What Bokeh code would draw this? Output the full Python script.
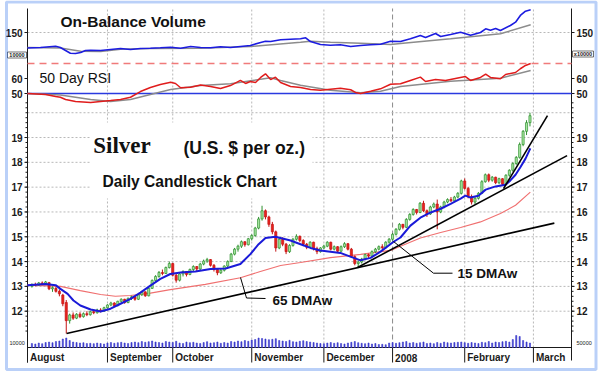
from bokeh.plotting import figure
from bokeh.models import Range1d, Label, BoxAnnotation, ColumnDataSource
from bokeh.core.properties import value
from bokeh.embed import file_html
from bokeh.resources import INLINE

# ---------------- data ----------------
months = ["August", "September", "October", "November", "December", "2008", "February", "March"]
month_start = [0, 22, 41, 64, 85, 105, 126, 146]

day = list(range(146))
opens = [13.00, 13.08, 13.05, 13.14, 13.10, 13.15, 12.90, 12.92, 12.80, 12.65, 12.35, 11.62, 11.85, 11.72, 11.88, 11.78, 11.90, 11.86, 11.98, 11.94, 12.05, 12.00,
         12.14, 12.25, 12.33, 12.22, 12.40, 12.48, 12.35, 12.52, 12.58, 12.48, 12.66, 12.78, 12.62, 12.92, 13.24, 13.40, 13.56, 13.52, 13.76,
         13.92, 13.45, 13.25, 13.50, 13.60, 13.48, 13.68, 13.80, 13.70, 13.90, 14.02, 14.08, 13.85, 13.68, 13.55, 13.65, 13.82, 14.00, 14.30, 14.50, 14.62, 14.80, 14.68,
         14.92, 15.05, 15.35, 15.72, 16.05, 15.80, 15.50, 15.20, 14.55, 14.90, 14.70, 14.40, 14.65, 14.90, 15.02, 14.85, 14.70, 14.58, 14.78, 14.52, 14.40,
         14.55, 14.62, 14.78, 14.50, 14.60, 14.42, 14.60, 14.72, 14.50, 14.20, 13.92, 13.98, 14.10, 14.28, 14.22, 14.40, 14.50, 14.60, 14.56, 14.78,
         14.90, 15.10, 15.30, 15.50, 15.38, 15.70, 15.90, 16.10, 15.98, 16.35, 16.05, 15.92, 16.20, 16.32, 16.00, 16.20, 16.40, 16.50, 16.45, 16.60, 16.75,
         17.25, 16.95, 16.62, 16.40, 16.55, 16.75, 17.22, 17.50, 17.28, 17.40, 17.18, 17.34, 17.12, 17.48, 17.68, 17.95, 18.20, 18.72, 19.25, 19.60]
highs = [13.12, 13.15, 13.18, 13.20, 13.22, 13.18, 13.00, 12.98, 12.88, 12.70, 12.45, 11.90, 11.95, 11.92, 11.96, 11.95, 12.00, 12.02, 12.06, 12.10, 12.12, 12.18,
         12.28, 12.38, 12.36, 12.42, 12.52, 12.50, 12.55, 12.62, 12.60, 12.70, 12.82, 12.80, 12.95, 13.28, 13.45, 13.62, 13.68, 13.80, 14.00,
         13.95, 13.50, 13.55, 13.65, 13.62, 13.72, 13.85, 13.82, 13.95, 14.08, 14.15, 14.10, 13.90, 13.72, 13.70, 13.85, 14.05, 14.35, 14.55, 14.68, 14.85, 14.82, 14.95,
         15.10, 15.40, 15.80, 16.25, 16.10, 15.85, 15.60, 15.25, 14.95, 14.98, 14.75, 14.70, 14.95, 15.10, 15.05, 14.90, 14.75, 14.82, 14.80, 14.60, 14.58,
         14.68, 14.82, 14.80, 14.65, 14.62, 14.65, 14.78, 14.75, 14.55, 14.25, 14.05, 14.15, 14.32, 14.32, 14.45, 14.55, 14.65, 14.70, 14.82, 14.95,
         15.15, 15.35, 15.55, 15.52, 15.75, 15.95, 16.15, 16.12, 16.40, 16.45, 16.10, 16.25, 16.38, 16.50, 16.25, 16.45, 16.55, 16.60, 16.65, 16.80, 17.30,
         17.35, 17.00, 16.70, 16.60, 16.80, 17.28, 17.55, 17.55, 17.45, 17.42, 17.38, 17.36, 17.52, 17.72, 18.00, 18.25, 18.80, 19.30, 19.70, 20.00]
lows = [12.95, 13.00, 13.02, 13.05, 13.06, 12.85, 12.78, 12.75, 12.60, 12.20, 11.10, 11.50, 11.65, 11.68, 11.72, 11.74, 11.80, 11.82, 11.88, 11.90, 11.95, 11.97,
        12.10, 12.20, 12.18, 12.20, 12.35, 12.30, 12.32, 12.45, 12.42, 12.45, 12.62, 12.58, 12.60, 12.90, 13.20, 13.35, 13.45, 13.50, 13.72,
        13.40, 13.15, 13.20, 13.40, 13.40, 13.45, 13.62, 13.62, 13.66, 13.85, 13.95, 13.80, 13.60, 13.45, 13.50, 13.60, 13.78, 13.98, 14.25, 14.40, 14.55, 14.60, 14.65,
        14.85, 15.00, 15.30, 15.65, 15.70, 15.40, 15.10, 14.40, 14.50, 14.62, 14.30, 14.35, 14.60, 14.85, 14.78, 14.62, 14.50, 14.55, 14.45, 14.30, 14.36,
        14.50, 14.58, 14.45, 14.45, 14.35, 14.38, 14.55, 14.45, 14.15, 13.85, 13.76, 13.92, 14.05, 14.15, 14.18, 14.35, 14.45, 14.50, 14.52, 14.72,
        14.85, 15.05, 15.25, 15.30, 15.35, 15.65, 15.85, 15.90, 15.95, 16.00, 15.80, 15.88, 16.15, 15.30, 15.95, 16.15, 16.35, 16.40, 16.42, 16.55, 16.70,
        16.90, 16.55, 16.30, 16.32, 16.50, 16.72, 17.18, 17.20, 17.22, 17.12, 17.12, 17.05, 17.10, 17.42, 17.62, 17.90, 18.15, 18.65, 19.10, 19.45]
closes = [13.08, 13.05, 13.14, 13.10, 13.18, 12.90, 12.95, 12.80, 12.70, 12.30, 11.62, 11.85, 11.72, 11.88, 11.78, 11.90, 11.86, 11.98, 11.94, 12.05, 12.00, 12.14,
          12.25, 12.33, 12.22, 12.40, 12.48, 12.35, 12.52, 12.58, 12.48, 12.66, 12.78, 12.62, 12.92, 13.24, 13.40, 13.56, 13.52, 13.76, 13.92,
          13.45, 13.25, 13.50, 13.60, 13.48, 13.68, 13.80, 13.70, 13.90, 14.02, 14.08, 13.85, 13.68, 13.55, 13.65, 13.82, 14.00, 14.30, 14.50, 14.62, 14.80, 14.68, 14.92,
          15.05, 15.35, 15.72, 16.05, 15.80, 15.50, 15.20, 14.55, 14.90, 14.70, 14.40, 14.65, 14.90, 15.02, 14.85, 14.70, 14.58, 14.78, 14.52, 14.40, 14.55,
          14.62, 14.78, 14.50, 14.60, 14.42, 14.60, 14.72, 14.50, 14.20, 13.92, 13.98, 14.10, 14.28, 14.22, 14.40, 14.50, 14.60, 14.56, 14.78, 14.90,
          15.10, 15.30, 15.50, 15.38, 15.70, 15.90, 16.10, 15.98, 16.35, 16.05, 15.92, 16.20, 16.32, 16.00, 16.20, 16.40, 16.50, 16.45, 16.60, 16.75, 17.25,
          16.95, 16.62, 16.40, 16.55, 16.75, 17.22, 17.50, 17.28, 17.40, 17.18, 17.34, 17.12, 17.48, 17.68, 17.95, 18.20, 18.72, 19.25, 19.60, 19.88]
volume = [40, 35, 45, 38, 50, 55, 48, 60, 65, 85, 95, 70, 55, 50, 45, 48, 40, 42, 38, 45, 40, 35,
          45, 50, 42, 48, 52, 45, 40, 50, 55, 48, 60, 52, 58, 65, 55, 50, 45, 60, 55,
          50, 62, 45, 40, 55, 48, 52, 45, 40, 50, 58, 45, 48, 55, 42, 50, 45, 60, 55, 65, 58, 70, 62,
          75, 80, 95, 90, 85, 78, 82, 88, 70, 65, 60, 72, 58, 55, 62, 68, 60, 55, 50, 45, 40,
          38, 45, 50, 42, 48, 40, 35, 45, 52, 60, 48, 42, 38, 45, 35, 40, 30, 32, 28, 45,
          50, 42, 48, 55, 60, 45, 50, 42, 48, 55, 40, 45, 38, 50, 42, 55, 48, 45, 50, 52, 55,
          48, 42, 50, 45, 40, 52, 48, 60, 45, 55, 50, 58, 62, 55, 80, 120, 110, 70, 55, 45]

ma15_day = [-1.3, 4.0, 6.9, 8.3, 10.4, 12.1, 14.1, 17.1, 20.0, 22.9, 25.8, 28.7, 31.6, 34.5, 37.4, 40.3, 43.3, 47.6,
            52.0, 56.4, 60.7, 63.6, 66.0, 68.0, 70.9, 75.3, 78.2, 81.1, 84.0, 86.9, 89.8, 92.7, 95.7, 98.6, 101.5,
            105.3, 107.3, 110.2, 113.1, 116.1, 119.0, 121.9, 124.8, 126.2, 127.7, 130.0, 132.1, 135.0, 137.9, 139.3,
            140.8, 142.2, 143.7, 145.1]
ma15_val = [13.05, 13.1, 13.05, 12.9, 12.7, 12.43, 12.23, 12.07, 11.99, 12.1, 12.3, 12.5, 12.75, 13.03, 13.3, 13.5, 13.56, 13.6,
            13.7, 13.72, 13.9, 14.3, 14.7, 14.95, 15.0, 14.85, 14.7, 14.55, 14.45, 14.4, 14.35, 14.2, 14.05, 14.15, 14.4,
            14.8, 14.97, 15.45, 15.77, 15.98, 16.13, 16.33, 16.54, 16.66, 16.58, 16.65, 16.9, 17.03, 17.1, 17.27,
            17.5, 17.8, 18.15, 18.56]
ma65_day = [-1.3, 8.3, 14.1, 20.0, 24.3, 28.7, 34.5, 40.3, 47.6, 50.5, 60.7, 66.5, 72.4, 78.2, 86.9, 95.7, 104.4,
            107.3, 113.1, 119.0, 124.8, 130.6, 136.4, 140.8, 145.1]
ma65_val = [13.05, 13.0, 12.83, 12.67, 12.6, 12.63, 12.73, 12.87, 13.02, 13.08, 13.35, 13.6, 13.84, 13.96, 14.16, 14.29, 14.45,
            14.62, 14.95, 15.17, 15.37, 15.6, 15.94, 16.27, 16.8]

obv_day = [-1.3, 2.5, 6.9, 8.3, 9.8, 11.2, 12.7, 14.2, 15.6, 17.1, 20.0, 22.9, 25.8, 28.7, 31.6, 34.5, 37.4, 40.4, 43.3, 46.2,
           49.1, 52.0, 54.9, 57.8, 60.7, 63.6, 66.6, 68.0, 69.5, 72.4, 75.3, 78.2, 79.7, 81.1, 84.0, 86.9, 89.8, 92.8, 95.7, 98.6,
           101.5, 104.4, 107.3, 110.2, 113.1, 114.6, 117.5, 119.0, 121.9, 124.8, 127.7, 130.6, 132.1, 133.5, 135.0, 136.4, 139.3,
           140.8, 142.2, 143.7, 145.2]
obv_val = [116.3, 117.4, 120.2, 117.4, 110.9, 105.0, 104.3, 106.5, 110.9, 111.5, 110.9, 113.0, 115.2, 113.0, 115.2, 115.9, 116.7,
           118.0, 115.9, 119.6, 117.4, 116.7, 118.9, 117.4, 119.6, 121.7, 128.3, 131.1, 130.4, 134.1, 135.4, 136.3, 138.5, 130.4,
           123.9, 122.4, 123.3, 119.6, 121.7, 123.3, 124.6, 131.1, 130.4, 136.3, 143.5, 139.1, 147.8, 141.3, 145.7, 150.7, 144.1,
           150.0, 158.0, 155.0, 158.7, 154.3, 165.2, 172.4, 187.0, 196.3, 199.3]
obvma_day = [-1.3, 8.3, 14.2, 20.0, 25.8, 34.5, 49.1, 63.6, 78.2, 81.1, 86.9, 95.7, 104.4, 107.3, 121.9, 136.4, 145.2]
obvma_val = [117.4, 116.3, 109.3, 108.7, 113.7, 115.2, 115.9, 119.6, 128.9, 131.1, 128.9, 126.7, 123.9, 126.1, 136.3, 147.2, 166.7]

rsi_day = [-1.3, 4.0, 6.9, 8.3, 9.8, 12.7, 17.1, 20.0, 22.9, 25.8, 28.7, 31.6, 34.5, 37.4, 40.4, 41.8, 43.3, 46.2, 49.1, 52.0,
           54.9, 57.8, 60.7, 62.2, 63.6, 65.1, 66.6, 68.0, 69.5, 70.9, 72.4, 75.3, 78.2, 81.1, 84.0, 86.9, 89.8, 92.8, 94.2, 95.7,
           98.6, 101.5, 104.4, 107.3, 110.2, 113.1, 114.6, 117.5, 120.4, 123.3, 126.2, 127.7, 130.6, 132.1, 133.5, 136.4, 137.9,
           140.8, 142.2, 143.7, 145.2]
rsi_val = [50, 49.3, 48, 47.5, 46, 44.7, 44, 44.7, 45.3, 46, 47.5, 51.3, 54, 56, 57.5, 56.7, 53.8, 54.2, 55.7, 54.7,
           53.3, 55.3, 58.7, 56.7, 58, 57.3, 60.7, 63.1, 59.3, 60.9, 57.3, 54.7, 54, 52.7, 52.2, 52.9, 53.5, 52.5, 50.7, 50,
           51.5, 53.1, 56.2, 56.5, 58.7, 60.9, 58, 59.3, 58.7, 60, 61.3, 58.7, 60.7, 62.9, 60.7, 59.8, 62.7, 64, 66.5, 68.7, 70]
rsima_day = [-1.3, 8.3, 17.1, 22.9, 28.7, 34.5, 40.4, 49.1, 57.8, 69.5, 72.4, 78.2, 86.9, 95.7, 101.5, 107.3, 121.9, 136.4, 145.2]
rsima_val = [50, 49, 46, 44.7, 46, 49.3, 52.7, 55.3, 56.5, 60.5, 58.7, 55.5, 52.2, 50.5, 51.5, 54.7, 58.2, 60.2, 65.3]

trend_day0 = [10.1, 94.8, 137.3]
trend_p0 = [11.1, 13.76, 16.94]
trend_day1 = [152.1, 155.8, 150.1]
trend_p1 = [15.55, 18.27, 19.88]

price_ticks = [12, 13, 14, 15, 16, 17, 18, 19]
price_grid = [12, 13, 14, 15, 16, 17, 18, 19, 20]
obv_ticks = [150]
rsi_ticks = [60, 50]
rsi_upper = 70
rsi_mid = 50
vol_base = 0

# ---------------- layout (pixel geometry -> data units) ----------------
CW, CH = 600, 374


def ix(rx):                # x pixel -> trading-day index
    return (rx - 31.4) / 3.435


def pp(ry):                # y pixel -> price
    return 12 + (310.7 - ry) / 24.81


def rr(ry):                # y pixel -> RSI
    return 50 + (93 - ry) / 1.5


def oo(ry):                # y pixel -> OBV
    return 150 + (32 - ry) / 0.46


def vv(ry):                # y pixel -> volume
    return (347 - ry) * 10


def cyb(ry):               # screen y measured from the bottom, for labels
    return CH - ry


p = figure(width=CW, height=CH, x_range=Range1d(ix(0), ix(CW)), y_range=Range1d(pp(CH), pp(0)),
           output_backend="svg", toolbar_location=None,
           x_axis_location=None, y_axis_location=None,
           min_border_left=0, min_border_right=0, min_border_top=0, min_border_bottom=0,
           background_fill_color="white", border_fill_color="white")
p.outline_line_color = None
p.grid.visible = False
p.extra_y_ranges = {"rsi": Range1d(rr(CH), rr(0)), "obv": Range1d(oo(CH), oo(0)),
                    "vol": Range1d(vv(CH), vv(0))}

AX_L, AX_R = ix(27), ix(571)
FONT = value("Liberation Sans")
GRID = "#b8b8b8"
INK = "#1a1a1a"

# ---- grid ----
grid_x = [m for m in month_start[1:] if m != 105]
p.segment(x0=grid_x, x1=grid_x, y0=vol_base, y1=vv(8), y_range_name="vol",
          line_color=GRID, line_dash="2 2", line_width=1)
p.segment(x0=[105], x1=[105], y0=vol_base, y1=vv(8), y_range_name="vol",
          line_color="#8a8a8a", line_dash="5 3", line_width=1)
p.segment(x0=AX_L, x1=AX_R, y0=price_grid, y1=price_grid, line_color=GRID, line_dash="2 2", line_width=1)
p.segment(x0=AX_L, x1=AX_R, y0=obv_ticks, y1=obv_ticks, y_range_name="obv",
          line_color=GRID, line_dash="2 2", line_width=1)

# white area behind the titles
p.add_layout(BoxAnnotation(left=90, right=312, bottom=cyb(198), top=cyb(122),
                           left_units="screen", right_units="screen",
                           top_units="screen", bottom_units="screen",
                           fill_color="white", fill_alpha=1.0, line_color=None))

# ---- axes ----
p.segment(x0=[AX_L], x1=[AX_L], y0=pp(362), y1=pp(8), line_color=INK, line_width=1)
p.segment(x0=[AX_R], x1=[AX_R], y0=pp(360), y1=pp(8), line_color=INK, line_width=1)
p.segment(x0=[AX_L], x1=[AX_R], y0=vol_base, y1=vol_base, y_range_name="vol", line_color=INK, line_width=1)
month_tick = [AX_L] + month_start[1:]
p.segment(x0=month_tick, x1=month_tick, y0=vol_base, y1=vv(362), y_range_name="vol",
          line_color=INK, line_width=1)
p.text(x=month_tick, y=vv(357), text=months, y_range_name="vol", x_offset=2.5,
       text_font=FONT, text_font_style="bold", text_font_size="10px",
       text_align="left", text_baseline="middle", text_color=INK)

minor = [round(11.2 + 0.2 * i, 2) for i in range(47)]
for x_axis, x_tick, x_minor, x_lab, align in [(AX_L, ix(24), ix(25), ix(22), "right"),
                                              (AX_R, ix(574), ix(573), ix(576), "left")]:
    p.segment(x0=x_tick, x1=x_axis, y0=price_ticks, y1=price_ticks, line_color=INK, line_width=1)
    p.segment(x0=x_minor, x1=x_axis, y0=minor, y1=minor, line_color=INK, line_width=1)
    p.text(x=x_lab, y=price_ticks, text=[str(t) for t in price_ticks], text_font=FONT,
           text_font_style="bold", text_font_size="10px", text_align=align,
           text_baseline="middle", text_color=INK)
    for rng, ticks in [("obv", obv_ticks), ("rsi", rsi_ticks)]:
        p.segment(x0=x_tick, x1=x_axis, y0=ticks, y1=ticks, y_range_name=rng,
                  line_color=INK, line_width=1)
        p.text(x=x_lab, y=ticks, text=[str(t) for t in ticks], y_range_name=rng, text_font=FONT,
               text_font_style="bold", text_font_size="10px", text_align=align,
               text_baseline="middle", text_color=INK)

# scale notes
p.quad(left=[ix(7), ix(572)], right=[ix(26), ix(593)], bottom=[oo(57.5), oo(56.5)],
       top=[oo(51.5), oo(50.5)], y_range_name="obv", fill_color="white",
       line_color="#333333", line_width=0.7)
p.text(x=[ix(16.5), ix(582.5)], y=[oo(54.5), oo(53.5)], text=["10000", "x10000"], y_range_name="obv",
       text_font=FONT, text_font_style="bold", text_font_size="5.5px", text_align="center",
       text_baseline="middle", text_color=INK)
p.text(x=[ix(9), ix(576)], y=[vv(342), vv(342)], text=["10000", "50000"], y_range_name="vol",
       text_font=FONT, text_font_size="5.5px", text_align="left",
       text_baseline="middle", text_color=INK)

# ---- volume ----
p.vbar(x=day, top=volume, bottom=vol_base, width=0.32, y_range_name="vol",
       fill_color="#3a3acc", line_color="#3a3acc", line_width=0.6)

# ---- 65 DMA ----
p.line(ma65_day, ma65_val, line_color="#f07070", line_width=1.1)

# ---- candles ----
up_fill, up_line = "#a6e6a0", "#2f8f2f"
dn_fill, dn_line = "#e8231d", "#c41414"
src = ColumnDataSource(dict(
    x=day, o=opens, h=highs, l=lows, c=closes,
    top=[max(a, b) for a, b in zip(opens, closes)],
    bot=[min(a, b) for a, b in zip(opens, closes)],
    fill=[up_fill if c >= o else dn_fill for o, c in zip(opens, closes)],
    line=[up_line if c >= o else dn_line for o, c in zip(opens, closes)],
))
p.segment(x0="x", y0="l", x1="x", y1="h", line_color="line", line_width=1, source=src)
p.vbar(x="x", width=0.62, top="top", bottom="bot", fill_color="fill", line_color="line",
       line_width=0.7, source=src)

# ---- 15 DMA ----
p.line(ma15_day, ma15_val, line_color="#1a1ad8", line_width=2)

# ---- trend lines ----
p.segment(x0=trend_day0, y0=trend_p0, x1=trend_day1, y1=trend_p1, line_color="black", line_width=1.6)

# leader lines for the labels
p.line([ix(240), ix(246), ix(265)], [pp(277), pp(297.5), pp(298)], line_color="black", line_width=1)
p.line([ix(393), ix(433), ix(452)], [pp(241), pp(272.7), pp(272.7)], line_color="black", line_width=1)

# ---- OBV ----
p.line(obvma_day, obvma_val, y_range_name="obv", line_color="#8c8c8c", line_width=1.5)
p.line(obv_day, obv_val, y_range_name="obv", line_color="#1c1ce0", line_width=1.6)

# ---- RSI ----
p.segment(x0=[AX_L], x1=[AX_R], y0=rsi_upper, y1=rsi_upper, y_range_name="rsi",
          line_color="#f07a7a", line_dash="7 5", line_width=1.5)
p.segment(x0=[AX_L], x1=[AX_R], y0=rsi_mid, y1=rsi_mid, y_range_name="rsi",
          line_color="#2a3ae0", line_width=1.6)
p.line(rsima_day, rsima_val, y_range_name="rsi", line_color="#8c8c8c", line_width=1.5)
p.line(rsi_day, rsi_val, y_range_name="rsi", line_color="#e01c1c", line_width=1.5)


# ---- titles ----
def lab(text, rx, ry, size, style="bold", font="Liberation Sans"):
    p.add_layout(Label(x=rx, y=cyb(ry), x_units="screen", y_units="screen", text=text,
                       text_font=font, text_font_style=style, text_font_size=size,
                       text_baseline="middle", text_align="left", text_color="#111111"))


lab("On-Balance Volume", 60, 21, "15.5px")
lab("50 Day RSI", 39, 77, "14px", style="normal")
lab("Silver", 92.7, 144.5, "23px", font="Liberation Serif")
lab("(U.S. $ per oz.)", 183, 147.5, "17.5px")
lab("Daily Candlestick Chart", 102, 181, "15.6px")
lab("65 DMAw", 272, 299.5, "13.5px")
lab("15 DMAw", 457, 272.5, "13.5px")

# blue frame around the picture
p.add_layout(BoxAnnotation(left=6, right=595.5, top=cyb(1.5), bottom=cyb(369),
                           left_units="screen", right_units="screen",
                           top_units="screen", bottom_units="screen",
                           fill_alpha=0, line_color="#1a62e8", line_width=3))

open("out.html", "w").write(file_html(p, INLINE))
